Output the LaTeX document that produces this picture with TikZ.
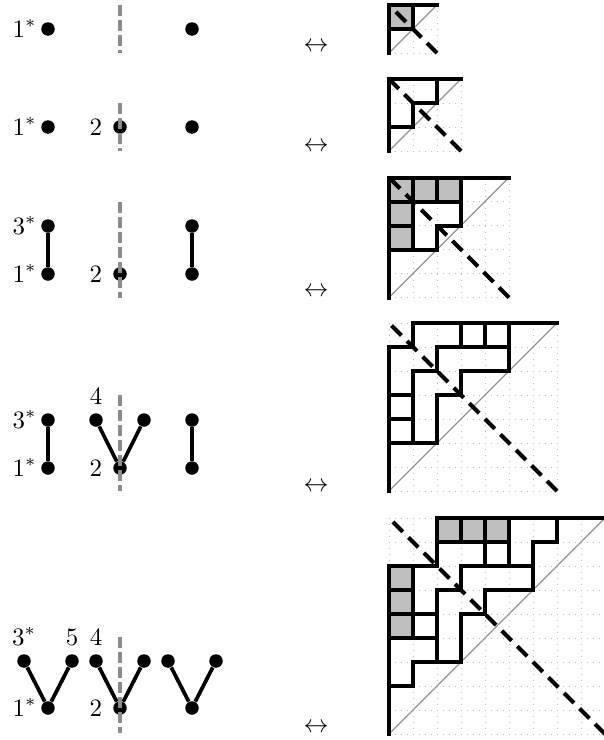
\documentclass[tikz,border=0pt]{standalone}
\begin{document}
\begin{tikzpicture}[x=0.4pt,y=-0.4pt,
  dot/.style={circle,fill=black,inner sep=0pt,minimum size=5.4pt},
  edge/.style={line width=1.5pt},
  graydash/.style={gray!90,line width=1.3pt,dash pattern=on 4.2pt off 1.8pt},
  lab/.style={inner sep=0pt},
  dotgrid/.style={gray!55,line width=0.4pt,dash pattern=on 0.4pt off 2pt},
  diagline/.style={gray!85,line width=0.45pt},
  thk/.style={line width=1.6pt,line cap=rect,line join=miter},
  blkdash/.style={line width=1.6pt,dash pattern=on 5.6pt off 3.2pt},
  cell/.style={fill=gray!50}
]
\useasboundingbox (0,0) rectangle (603,740);

% ---------------- left graphs ----------------
% row 1
\node[dot] (r1a) at (48,29) {};
\node[dot] (r1b) at (192,29) {};
\node[lab,anchor=base east] (r1la) at (37,37) {$1^*$};
\coordinate (d1t) at (120,5); \coordinate (d1b) at (120,53);
\draw[graydash] (d1t) -- (d1b);

% row 2
\node[dot] (r2a) at (48,127) {};
\node[dot] (r2b) at (120,127) {};
\node[dot] (r2c) at (192,127) {};
\node[lab,anchor=base east] (r2la) at (37,135) {$1^*$};
\node[lab,anchor=base east] (r2lb) at (102.5,135) {$2$};
\coordinate (d2t) at (120,103); \coordinate (d2b) at (120,151);
\draw[graydash] (d2t) -- (d2b);

% row 3
\node[dot] (r3a) at (48,226) {};
\node[dot] (r3b) at (48,274) {};
\node[dot] (r3c) at (120,274) {};
\node[dot] (r3d) at (192,226) {};
\node[dot] (r3e) at (192,274) {};
\draw[edge] (r3a) -- (r3b);
\draw[edge] (r3d) -- (r3e);
\node[lab,anchor=base east] (r3la) at (37,234) {$3^*$};
\node[lab,anchor=base east] (r3lb) at (37,282) {$1^*$};
\node[lab,anchor=base east] (r3lc) at (102.5,282) {$2$};
\coordinate (d3t) at (120,202); \coordinate (d3b) at (120,298);
\draw[graydash] (d3t) -- (d3b);

% row 4
\node[dot] (r4a) at (48,420) {};
\node[dot] (r4b) at (48,468) {};
\node[dot] (r4c) at (96,420) {};
\node[dot] (r4d) at (144,420) {};
\node[dot] (r4e) at (120,468) {};
\node[dot] (r4f) at (192,420) {};
\node[dot] (r4g) at (192,468) {};
\draw[edge] (r4a) -- (r4b);
\draw[edge] (r4c) -- (r4e);
\draw[edge] (r4d) -- (r4e);
\draw[edge] (r4f) -- (r4g);
\node[lab,anchor=base east] (r4la) at (37,428) {$3^*$};
\node[lab,anchor=base east] (r4lb) at (37,476) {$1^*$};
\node[lab,anchor=base] (r4lc) at (96,404) {$4$};
\node[lab,anchor=base east] (r4ld) at (102.5,476) {$2$};
\coordinate (d4t) at (120,395); \coordinate (d4b) at (120,491);
\draw[graydash] (d4t) -- (d4b);

% row 5
\node[dot] (r5a) at (24,661) {};
\node[dot] (r5b) at (72,661) {};
\node[dot] (r5c) at (48,708) {};
\node[dot] (r5d) at (96,661) {};
\node[dot] (r5e) at (144,661) {};
\node[dot] (r5f) at (120,708) {};
\node[dot] (r5g) at (168,661) {};
\node[dot] (r5h) at (216,661) {};
\node[dot] (r5i) at (192,708) {};
\draw[edge] (r5a) -- (r5c);
\draw[edge] (r5b) -- (r5c);
\draw[edge] (r5d) -- (r5f);
\draw[edge] (r5e) -- (r5f);
\draw[edge] (r5g) -- (r5i);
\draw[edge] (r5h) -- (r5i);
\node[lab,anchor=base] (r5la) at (24,645) {$3^*$};
\node[lab,anchor=base] (r5lb) at (72,645) {$5$};
\node[lab,anchor=base] (r5lc) at (96,645) {$4$};
\node[lab,anchor=base east] (r5ld) at (37,716) {$1^*$};
\node[lab,anchor=base east] (r5le) at (102.5,716) {$2$};
\coordinate (d5t) at (120,637); \coordinate (d5b) at (120,733);
\draw[graydash] (d5t) -- (d5b);

% ---------------- arrows ----------------
\node[lab,anchor=base] (ar1) at (316,51) {$\leftrightarrow$};
\node[lab,anchor=base] (ar2) at (316,151) {$\leftrightarrow$};
\node[lab,anchor=base] (ar3) at (316,296) {$\leftrightarrow$};
\node[lab,anchor=base] (ar4) at (316,491) {$\leftrightarrow$};
\node[lab,anchor=base] (ar5) at (316,732) {$\leftrightarrow$};

% ---------------- grids ----------------
% row 1, n=2
\begin{scope}[shift={(155.6pt,-2pt)},x=9.6pt,y=-9.6pt]
\foreach \k in {0,...,2} {\draw[dotgrid] (\k,0) -- (\k,2); \draw[dotgrid] (0,\k) -- (2,\k);}
\fill[cell] (0,0) rectangle (1,1);
\draw[diagline] (0,2) -- (2,0);
\draw[thk] (0,2) -- (0,0) -- (2,0);
\draw[thk] (1,0) -- (1,1) -- (0,1);
\draw[blkdash] (2,2) -- (0,0);
\end{scope}

% row 2, n=3
\begin{scope}[shift={(155.6pt,-31.6pt)},x=9.6pt,y=-9.6pt]
\foreach \k in {0,...,3} {\draw[dotgrid] (\k,0) -- (\k,3); \draw[dotgrid] (0,\k) -- (3,\k);}
\draw[diagline] (0,3) -- (3,0);
\draw[thk] (0,3) -- (0,0) -- (3,0);
\draw[thk] (0,2) -- (1,2) -- (1,1) -- (2,1) -- (2,0);
\draw[blkdash] (3,3) -- (0,0);
\end{scope}

% row 3, n=5
\begin{scope}[shift={(155.6pt,-71pt)},x=9.6pt,y=-9.6pt]
\foreach \k in {0,...,5} {\draw[dotgrid] (\k,0) -- (\k,5); \draw[dotgrid] (0,\k) -- (5,\k);}
\fill[cell] (0,0) rectangle (3,1);
\fill[cell] (0,1) rectangle (1,3);
\draw[diagline] (0,5) -- (5,0);
\draw[thk] (0,5) -- (0,0) -- (5,0);
\draw[thk] (0,3) -- (2,3) -- (2,2) -- (3,2) -- (3,0);
\draw[thk] (1,0) -- (1,3);
\draw[thk] (0,1) -- (3,1);
\draw[thk] (2,0) -- (2,1);
\draw[thk] (0,2) -- (1,2);
\draw[blkdash] (5,5) -- (0,0);
\end{scope}

% row 4, n=7
\begin{scope}[shift={(155.6pt,-129.2pt)},x=9.6pt,y=-9.6pt]
\foreach \k in {0,...,7} {\draw[dotgrid] (\k,0) -- (\k,7); \draw[dotgrid] (0,\k) -- (7,\k);}
\draw[diagline] (0,7) -- (7,0);
\draw[thk] (0,7) -- (0,1) -- (1,1) -- (1,0) -- (7,0);
\draw[thk] (5,1) -- (2,1) -- (2,2) -- (1,2) -- (1,5);
\draw[thk] (0,5) -- (2,5);
\draw[thk] (5,0) -- (5,2) -- (3,2) -- (3,3) -- (2,3) -- (2,5);
\draw[thk] (3,0) -- (3,1);
\draw[thk] (4,0) -- (4,1);
\draw[thk] (0,3) -- (1,3);
\draw[thk] (0,4) -- (1,4);
\draw[blkdash] (7,7) -- (0,0);
\end{scope}

% row 5, n=9
\begin{scope}[shift={(155.6pt,-207.2pt)},x=9.6pt,y=-9.6pt]
\foreach \k in {0,...,9} {\draw[dotgrid] (\k,0) -- (\k,9); \draw[dotgrid] (0,\k) -- (9,\k);}
\fill[cell] (2,0) rectangle (5,1);
\fill[cell] (0,2) rectangle (1,5);
\draw[diagline] (0,9) -- (9,0);
\draw[thk] (0,9) -- (0,2) -- (2,2) -- (2,0) -- (9,0);
\draw[thk] (2,1) -- (5,1);
\draw[thk] (3,0) -- (3,1);
\draw[thk] (4,0) -- (4,2);
\draw[thk] (5,0) -- (5,2);
\draw[thk] (1,2) -- (1,5);
\draw[thk] (0,3) -- (1,3);
\draw[thk] (0,4) -- (2,4);
\draw[thk] (0,5) -- (2,5);
\draw[thk] (7,0) -- (7,1) -- (6,1) -- (6,3);
\draw[thk] (0,7) -- (1,7) -- (1,6) -- (3,6);
\draw[thk] (6,2) -- (3,2) -- (3,3) -- (2,3) -- (2,6);
\draw[thk] (6,3) -- (4,3) -- (4,4) -- (3,4) -- (3,6);
\draw[blkdash] (9,9) -- (0,0);
\end{scope}
\end{tikzpicture}
\end{document}
